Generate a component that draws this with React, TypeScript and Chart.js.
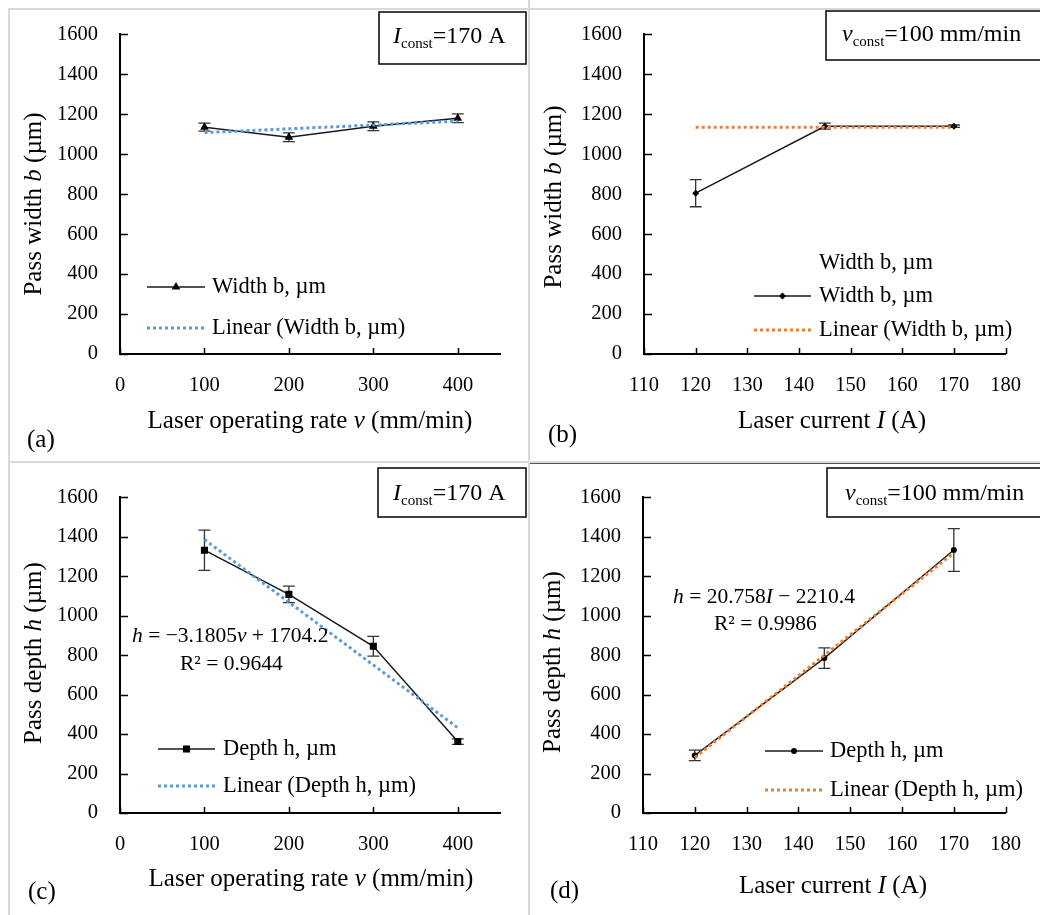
import { useEffect, useRef } from "react";
import { Chart, registerables } from "chart.js";

Chart.register(...registerables);

const FAMILY = '"Liberation Serif", "Times New Roman", serif';

// ---------- data ----------
// shared tick labels
const yTicks = [0, 200, 400, 600, 800, 1000, 1200, 1400, 1600];
const rateTicks = [0, 100, 200, 300, 400];
const currentTicks = [110, 120, 130, 140, 150, 160, 170, 180];

// (a) width vs laser operating rate (I = 170 A)
const rateV = [100, 200, 300, 400];
const widthVsRate = [1135, 1085, 1140, 1180];
const widthVsRateErr = [20, 22, 22, 22];
const widthVsRateTrendX = [100, 400];
const widthVsRateTrend = [1108, 1165];

// (b) width vs laser current (v = 100 mm/min)
const currentI = [120, 145, 170];
const widthVsCurrent = [805, 1140, 1140];
const widthVsCurrentErr = [68, 15, 6];
const widthVsCurrentTrendX = [120, 170];
const widthVsCurrentTrend = [1135, 1135];

// (c) depth vs laser operating rate
const depthVsRate = [1332, 1108, 845, 362];
const depthVsRateErr = [102, 42, 50, 14];
const depthVsRateTrendX = [100, 400];
const depthVsRateTrend = [1386, 432];

// (d) depth vs laser current
const depthVsCurrent = [292, 785, 1333];
const depthVsCurrentErr = [27, 52, 108];
const depthVsCurrentTrendX = [120, 170];
const depthVsCurrentTrend = [281, 1318];

// ---------- types ----------
type Seg = { t: string; i?: boolean; sub?: boolean };
interface TextItem {
  segs: Seg[];
  x: number;
  y: number;
  size: number;
  align?: "left" | "center";
  rot?: boolean;
}
interface LegendRow {
  label: string;
  kind: "none" | "data" | "trend";
  y: number;
}
interface Panel {
  ox: number;
  oy: number;
  w: number;
  h: number;
  area: { l: number; t: number; r: number; b: number };
  xMin: number;
  xMax: number;
  xTicks: number[];
  xs: number[];
  ys: number[];
  errs: number[];
  trendX: number[];
  trendY: number[];
  trendColor: string;
  pointStyle: string;
  pointRadius: number;
  dataLabel: string;
  trendLabel: string;
  legend: { x0: number; x1: number; textX: number; rows: LegendRow[] };
  box: { x: number; y: number; w: number; h: number };
  texts: TextItem[];
}

const TITLE = 25;
const BOXT = 24;
const LEG = 22.5;

const panels: Panel[] = [
  {
    ox: 0, oy: 0, w: 528, h: 462,
    area: { l: 120, t: 33, r: 500, b: 354 },
    xMin: 0, xMax: 450, xTicks: rateTicks,
    xs: rateV, ys: widthVsRate, errs: widthVsRateErr,
    trendX: widthVsRateTrendX, trendY: widthVsRateTrend,
    trendColor: "#5b9bd5", pointStyle: "triangle", pointRadius: 5,
    dataLabel: "Width b, µm", trendLabel: "Linear (Width b, µm)",
    legend: {
      x0: 147, x1: 205, textX: 212,
      rows: [
        { label: "Width b, µm", kind: "data", y: 287 },
        { label: "Linear (Width b, µm)", kind: "trend", y: 328 },
      ],
    },
    box: { x: 379, y: 12, w: 147, h: 52 },
    texts: [
      { segs: [{ t: "Pass width " }, { t: "b", i: true }, { t: " (µm)" }], x: 41, y: 204, size: TITLE, align: "center", rot: true },
      { segs: [{ t: "Laser operating rate " }, { t: "v", i: true }, { t: " (mm/min)" }], x: 310, y: 428, size: TITLE, align: "center" },
      { segs: [{ t: "(a)" }], x: 27, y: 447, size: TITLE },
      { segs: [{ t: "I", i: true }, { t: "const", sub: true }, { t: "=170 A" }], x: 393, y: 43, size: BOXT },
    ],
  },
  {
    ox: 530, oy: 0, w: 510, h: 462,
    area: { l: 644, t: 33, r: 1020, b: 354 },
    xMin: 110, xMax: 180, xTicks: currentTicks,
    xs: currentI, ys: widthVsCurrent, errs: widthVsCurrentErr,
    trendX: widthVsCurrentTrendX, trendY: widthVsCurrentTrend,
    trendColor: "#ed7d31", pointStyle: "rectRot", pointRadius: 3.5,
    dataLabel: "Width b, µm", trendLabel: "Linear (Width b, µm)",
    legend: {
      x0: 754, x1: 811, textX: 819,
      rows: [
        { label: "Width b, µm", kind: "none", y: 263 },
        { label: "Width b, µm", kind: "data", y: 296 },
        { label: "Linear (Width b, µm)", kind: "trend", y: 330 },
      ],
    },
    box: { x: 826, y: 11, w: 230, h: 49 },
    texts: [
      { segs: [{ t: "Pass width " }, { t: "b", i: true }, { t: " (µm)" }], x: 561, y: 197, size: TITLE, align: "center", rot: true },
      { segs: [{ t: "Laser current " }, { t: "I", i: true }, { t: " (A)" }], x: 832, y: 428, size: TITLE, align: "center" },
      { segs: [{ t: "(b)" }], x: 548, y: 442, size: TITLE },
      { segs: [{ t: "v", i: true }, { t: "const", sub: true }, { t: "=100 mm/min" }], x: 842, y: 41, size: BOXT },
    ],
  },
  {
    ox: 0, oy: 463, w: 528, h: 452,
    area: { l: 120, t: 490, r: 500, b: 813 },
    xMin: 0, xMax: 450, xTicks: rateTicks,
    xs: rateV, ys: depthVsRate, errs: depthVsRateErr,
    trendX: depthVsRateTrendX, trendY: depthVsRateTrend,
    trendColor: "#5b9bd5", pointStyle: "rect", pointRadius: 5,
    dataLabel: "Depth h, µm", trendLabel: "Linear (Depth h, µm)",
    legend: {
      x0: 158, x1: 215, textX: 223,
      rows: [
        { label: "Depth h, µm", kind: "data", y: 749 },
        { label: "Linear (Depth h, µm)", kind: "trend", y: 786 },
      ],
    },
    box: { x: 378, y: 468, w: 148, h: 49 },
    texts: [
      { segs: [{ t: "Pass depth " }, { t: "h", i: true }, { t: " (µm)" }], x: 41, y: 653, size: TITLE, align: "center", rot: true },
      { segs: [{ t: "Laser operating rate " }, { t: "v", i: true }, { t: " (mm/min)" }], x: 311, y: 886, size: TITLE, align: "center" },
      { segs: [{ t: "(c)" }], x: 28, y: 899, size: TITLE },
      { segs: [{ t: "I", i: true }, { t: "const", sub: true }, { t: "=170 A" }], x: 393, y: 500, size: BOXT },
      { segs: [{ t: "h", i: true }, { t: " = −3.1805" }, { t: "v", i: true }, { t: " + 1704.2" }], x: 132, y: 642, size: 21.5 },
      { segs: [{ t: "R² = 0.9644" }], x: 180, y: 670, size: 21.5 },
    ],
  },
  {
    ox: 530, oy: 463, w: 510, h: 452,
    area: { l: 643, t: 490, r: 1022, b: 813 },
    xMin: 110, xMax: 180, xTicks: currentTicks,
    xs: currentI, ys: depthVsCurrent, errs: depthVsCurrentErr,
    trendX: depthVsCurrentTrendX, trendY: depthVsCurrentTrend,
    trendColor: "#ed7d31", pointStyle: "circle", pointRadius: 3,
    dataLabel: "Depth h, µm", trendLabel: "Linear (Depth h, µm)",
    legend: {
      x0: 765, x1: 823, textX: 830,
      rows: [
        { label: "Depth h, µm", kind: "data", y: 751 },
        { label: "Linear (Depth h, µm)", kind: "trend", y: 790 },
      ],
    },
    box: { x: 827, y: 468, w: 230, h: 49 },
    texts: [
      { segs: [{ t: "Pass depth " }, { t: "h", i: true }, { t: " (µm)" }], x: 560, y: 662, size: TITLE, align: "center", rot: true },
      { segs: [{ t: "Laser current " }, { t: "I", i: true }, { t: " (A)" }], x: 833, y: 893, size: TITLE, align: "center" },
      { segs: [{ t: "(d)" }], x: 550, y: 898, size: TITLE },
      { segs: [{ t: "v", i: true }, { t: "const", sub: true }, { t: "=100 mm/min" }], x: 845, y: 500, size: BOXT },
      { segs: [{ t: "h", i: true }, { t: " = 20.758" }, { t: "I", i: true }, { t: " − 2210.4" }], x: 673, y: 603, size: 21.5 },
      { segs: [{ t: "R² = 0.9986" }], x: 714, y: 630, size: 21.5 },
    ],
  },
];

// ---------- drawing helpers ----------
function segFont(s: Seg, size: number) {
  const sz = s.sub ? Math.round(size * 0.62) : size;
  return `${s.i ? "italic " : ""}${sz}px ${FAMILY}`;
}

function drawRich(ctx: CanvasRenderingContext2D, item: TextItem) {
  ctx.save();
  ctx.translate(item.x, item.y);
  if (item.rot) ctx.rotate(-Math.PI / 2);
  let w = 0;
  for (const s of item.segs) {
    ctx.font = segFont(s, item.size);
    w += ctx.measureText(s.t).width;
  }
  let x = item.align === "center" ? -w / 2 : 0;
  ctx.textAlign = "left";
  ctx.textBaseline = "alphabetic";
  ctx.fillStyle = "#000";
  for (const s of item.segs) {
    ctx.font = segFont(s, item.size);
    ctx.fillText(s.t, x, s.sub ? item.size * 0.22 : 0);
    x += ctx.measureText(s.t).width;
  }
  ctx.restore();
}

function drawMarker(ctx: CanvasRenderingContext2D, style: string, x: number, y: number, r: number) {
  ctx.beginPath();
  if (style === "triangle") {
    ctx.moveTo(x, y - r);
    ctx.lineTo(x + r * 0.866, y + r * 0.5);
    ctx.lineTo(x - r * 0.866, y + r * 0.5);
    ctx.closePath();
  } else if (style === "rectRot") {
    ctx.moveTo(x, y - r);
    ctx.lineTo(x + r, y);
    ctx.lineTo(x, y + r);
    ctx.lineTo(x - r, y);
    ctx.closePath();
  } else if (style === "rect") {
    const s = r * Math.SQRT1_2;
    ctx.rect(x - s, y - s, 2 * s, 2 * s);
  } else {
    ctx.arc(x, y, r, 0, Math.PI * 2);
  }
  ctx.fillStyle = "#000";
  ctx.fill();
}

function decoPlugin(p: Panel) {
  return {
    id: "deco",
    beforeDatasetsDraw(chart: any) {
      const ctx: CanvasRenderingContext2D = chart.ctx;
      const xs = chart.scales.x;
      const ys = chart.scales.y;
      ctx.save();
      ctx.strokeStyle = "#333";
      ctx.lineWidth = 1.3;
      p.xs.forEach((xv, i) => {
        const px = xs.getPixelForValue(xv);
        const top = ys.getPixelForValue(p.ys[i] + p.errs[i]);
        const bot = ys.getPixelForValue(p.ys[i] - p.errs[i]);
        ctx.beginPath();
        ctx.moveTo(px, top);
        ctx.lineTo(px, bot);
        ctx.moveTo(px - 6, top);
        ctx.lineTo(px + 6, top);
        ctx.moveTo(px - 6, bot);
        ctx.lineTo(px + 6, bot);
        ctx.stroke();
      });
      ctx.restore();
    },
    afterDraw(chart: any) {
      const ctx: CanvasRenderingContext2D = chart.ctx;
      const xs = chart.scales.x;
      const ys = chart.scales.y;
      const a = chart.chartArea;
      ctx.save();
      // inner tick marks
      ctx.strokeStyle = "#000";
      ctx.lineWidth = 1.5;
      ctx.beginPath();
      for (const t of xs.ticks) {
        const px = Math.round(xs.getPixelForValue(t.value)) + 0.5;
        ctx.moveTo(px, a.bottom);
        ctx.lineTo(px, a.bottom - 6);
      }
      for (const t of ys.ticks) {
        const py = Math.round(ys.getPixelForValue(t.value)) + 0.5;
        ctx.moveTo(a.left, py);
        ctx.lineTo(a.left + 8, py);
      }
      ctx.stroke();

      ctx.translate(-p.ox, -p.oy);
      // annotation box
      ctx.lineWidth = 1.6;
      ctx.strokeStyle = "#111";
      ctx.strokeRect(p.box.x, p.box.y, p.box.w, p.box.h);
      // texts
      for (const t of p.texts) drawRich(ctx, t);
      // legend
      const L = p.legend;
      for (const row of L.rows) {
        if (row.kind === "data") {
          ctx.strokeStyle = "#1a1a1a";
          ctx.lineWidth = 1.5;
          ctx.setLineDash([]);
          ctx.beginPath();
          ctx.moveTo(L.x0, row.y);
          ctx.lineTo(L.x1, row.y);
          ctx.stroke();
          drawMarker(ctx, p.pointStyle, (L.x0 + L.x1) / 2, row.y, p.pointRadius);
        } else if (row.kind === "trend") {
          ctx.strokeStyle = p.trendColor;
          ctx.lineWidth = 3;
          ctx.setLineDash([3, 3]);
          ctx.beginPath();
          ctx.moveTo(L.x0, row.y);
          ctx.lineTo(L.x1, row.y);
          ctx.stroke();
          ctx.setLineDash([]);
        }
        ctx.font = `${LEG}px ${FAMILY}`;
        ctx.fillStyle = "#000";
        ctx.textAlign = "left";
        ctx.textBaseline = "middle";
        ctx.fillText(row.label, L.textX, row.y);
      }
      ctx.restore();
    },
  };
}

function buildConfig(p: Panel): any {
  const dataPts = p.xs.map((x, i) => ({ x, y: p.ys[i] }));
  const trendPts = p.trendX.map((x, i) => ({ x, y: p.trendY[i] }));
  const tickFont = { family: FAMILY, size: 20.5 };
  return {
    type: "line",
    data: {
      datasets: [
        {
          label: p.trendLabel,
          data: trendPts,
          borderColor: p.trendColor,
          borderWidth: 3,
          borderDash: [3, 3],
          pointRadius: 0,
          fill: false,
          order: 0,
        },
        {
          label: p.dataLabel,
          data: dataPts,
          borderColor: "#1a1a1a",
          backgroundColor: "#000",
          borderWidth: 1.5,
          pointStyle: p.pointStyle,
          pointRadius: p.pointRadius,
          pointBorderWidth: 0,
          pointBackgroundColor: "#000",
          fill: false,
          order: 1,
        },
      ],
    },
    options: {
      animation: false,
      responsive: false,
      devicePixelRatio: 1,
      events: [],
      layout: {
        padding: { top: p.area.t - p.oy, right: p.ox + p.w - p.area.r, left: 0, bottom: 0 },
      },
      plugins: { legend: { display: false }, tooltip: { enabled: false }, title: { display: false } },
      scales: {
        x: {
          type: "linear",
          min: p.xMin,
          max: p.xMax,
          afterBuildTicks: (s: any) => {
            s.ticks = p.xTicks.map((v) => ({ value: v }));
          },
          afterFit: (s: any) => {
            s.height = p.oy + p.h - p.area.b;
          },
          grid: { display: false, drawTicks: false },
          border: { display: true, color: "#000", width: 2 },
          ticks: {
            font: tickFont,
            color: "#000",
            padding: 19,
            maxRotation: 0,
            autoSkip: false,
            callback: (v: any) => String(v),
          },
        },
        y: {
          type: "linear",
          min: 0,
          max: 1600,
          afterBuildTicks: (s: any) => {
            s.ticks = yTicks.map((v) => ({ value: v }));
          },
          afterFit: (s: any) => {
            s.width = p.area.l - p.ox;
          },
          grid: { display: false, drawTicks: false },
          border: { display: true, color: "#000", width: 2 },
          ticks: {
            font: tickFont,
            color: "#000",
            padding: 22,
            autoSkip: false,
            callback: (v: any) => String(v),
          },
        },
      },
    },
    plugins: [decoPlugin(p)],
  };
}

function PanelChart({ p }: { p: Panel }) {
  const ref = useRef<HTMLCanvasElement>(null);
  useEffect(() => {
    const chart = new Chart(ref.current as HTMLCanvasElement, buildConfig(p));
    return () => chart.destroy();
  }, [p]);
  return (
    <canvas
      ref={ref}
      width={p.w}
      height={p.h}
      style={{ position: "absolute", left: p.ox, top: p.oy, width: p.w, height: p.h }}
    />
  );
}

export default function App() {
  const line = (l: number, t: number, w: number, h: number, c = "#d9d9d9") => (
    <div style={{ position: "absolute", left: l, top: t, width: w, height: h, background: c }} />
  );
  return (
    <div style={{ position: "absolute", left: 0, top: 0, width: 1040, height: 915, background: "#fff", overflow: "hidden" }}>
      {panels.map((p, i) => (
        <PanelChart key={i} p={p} />
      ))}
      {line(8, 8, 1032, 2)}
      {line(8, 8, 2, 907)}
      {line(528, 0, 2, 915)}
      {line(8, 461, 1032, 2)}
      {line(530, 463, 510, 1, "#555")}
    </div>
  );
}
